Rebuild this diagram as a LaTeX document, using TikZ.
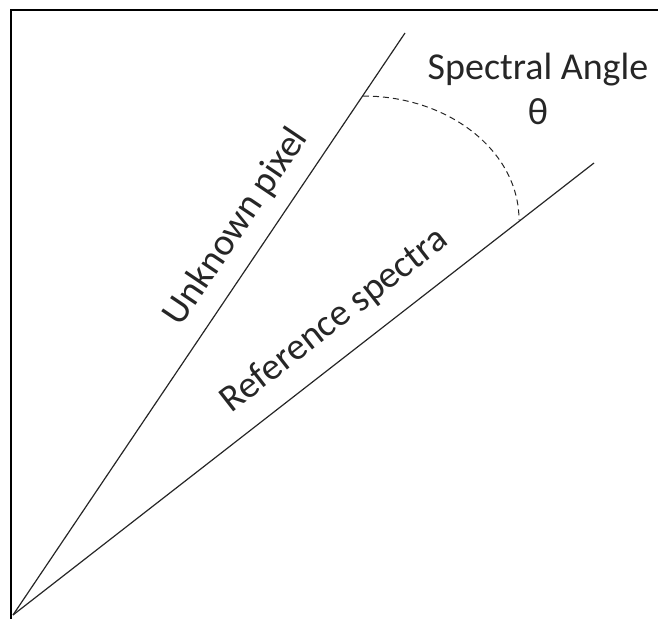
\documentclass[tikz,border=0pt]{standalone}
\usepackage{fontspec}
\setmainfont{Carlito}
\tikzset{
  ray/.style={black!85,line width=1.2pt},
  lbl/.style={font=\fontsize{38}{45}\selectfont,text=black!85,inner sep=0pt}
}
\begin{document}
\begin{tikzpicture}[x=1pt,y=1pt]
\useasboundingbox (0,0) rectangle (658,619);
% frame (top and left only)
\draw[line width=2.2pt] (658,609) -- (11,609) -- (11,0);
% the two spectra as rays from the origin
\coordinate (o) at (13,4);
\coordinate (u) at (405,586);
\coordinate (r) at (594,456);
\draw[ray] (o) -- (u);
\draw[ray] (o) -- (r);
% angle between them
\coordinate (a) at (363,523);
\draw[ray,line width=1pt,dash pattern=on 6pt off 4pt] (a) arc[start angle=90,end angle=0,x radius=156,y radius=124];
\node[lbl,anchor=north,align=center] (angle) at (538,566) {Spectral Angle\\θ};
\node[lbl,anchor=base,rotate=56.04] (pixel) at (244.8,386.3) {Unknown pixel};
\node[lbl,anchor=base,rotate=37.88] (refspec) at (340.5,290.6) {Reference spectra};
\end{tikzpicture}
\end{document}
